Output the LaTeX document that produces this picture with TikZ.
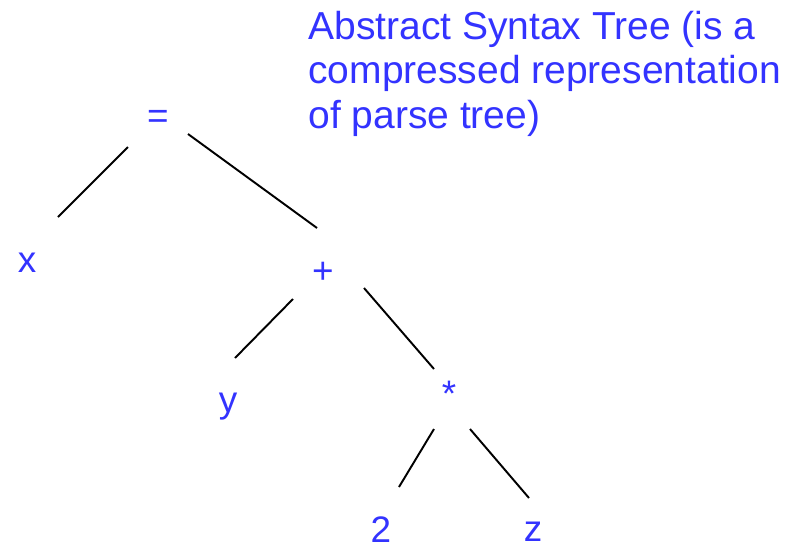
\documentclass[tikz,border=0pt]{standalone}
\usepackage{fontspec}
\setmainfont{Liberation Sans}
\usepackage{tikz}
\usetikzlibrary{positioning}
\definecolor{astblue}{RGB}{51,51,255}
\tikzset{
  tok/.style={text=astblue, inner sep=0pt, font=\fontsize{21}{25}\selectfont},
  note/.style={text=astblue, inner sep=0pt, align=left,
               font=\fontsize{22.2}{25.2}\selectfont},
  edge/.style={black, line width=1.1pt},
}

\begin{document}
\begin{tikzpicture}[x=0.02cm, y=-0.02cm]
  \useasboundingbox (0,0) rectangle (796,548);
%---------------- caption ----------------
  % base anchor sits on the last line
  \node[note, anchor=base west] (cap) at (308,128)
       {Abstract Syntax Tree (is a\\ compressed representation\\ of parse tree)};
%---------------- tree nodes ----------------
  \node[tok] (eq)   at (158,119) {=};
  \node[tok] (x)    at (27,263)  {x};
  \node[tok] (plus) at (323,273) {+};
  \node[tok] (y)    at (228,407) {y};
  \node[tok] (star) at (449,394) {*};
  \node[tok] (two)  at (381,530) {2};
  \node[tok] (z)    at (533,532) {z};
%---------------- edges (kept clear of the labels) ----------------
  \draw[edge] ([shift={(-30,28)}]eq.center)   -- ([shift={(31,-46)}]x.center);
  \draw[edge] ([shift={(30,15)}]eq.center)    -- ([shift={(-6,-45)}]plus.center);
  \draw[edge] ([shift={(-30,26)}]plus.center) -- ([shift={(7,-49)}]y.center);
  \draw[edge] ([shift={(41,15)}]plus.center)  -- ([shift={(-15,-25)}]star.center);
  \draw[edge] ([shift={(-15,35)}]star.center) -- ([shift={(18,-43)}]two.center);
  \draw[edge] ([shift={(21,35)}]star.center)  -- ([shift={(-4,-34)}]z.center);
\end{tikzpicture}
\end{document}
